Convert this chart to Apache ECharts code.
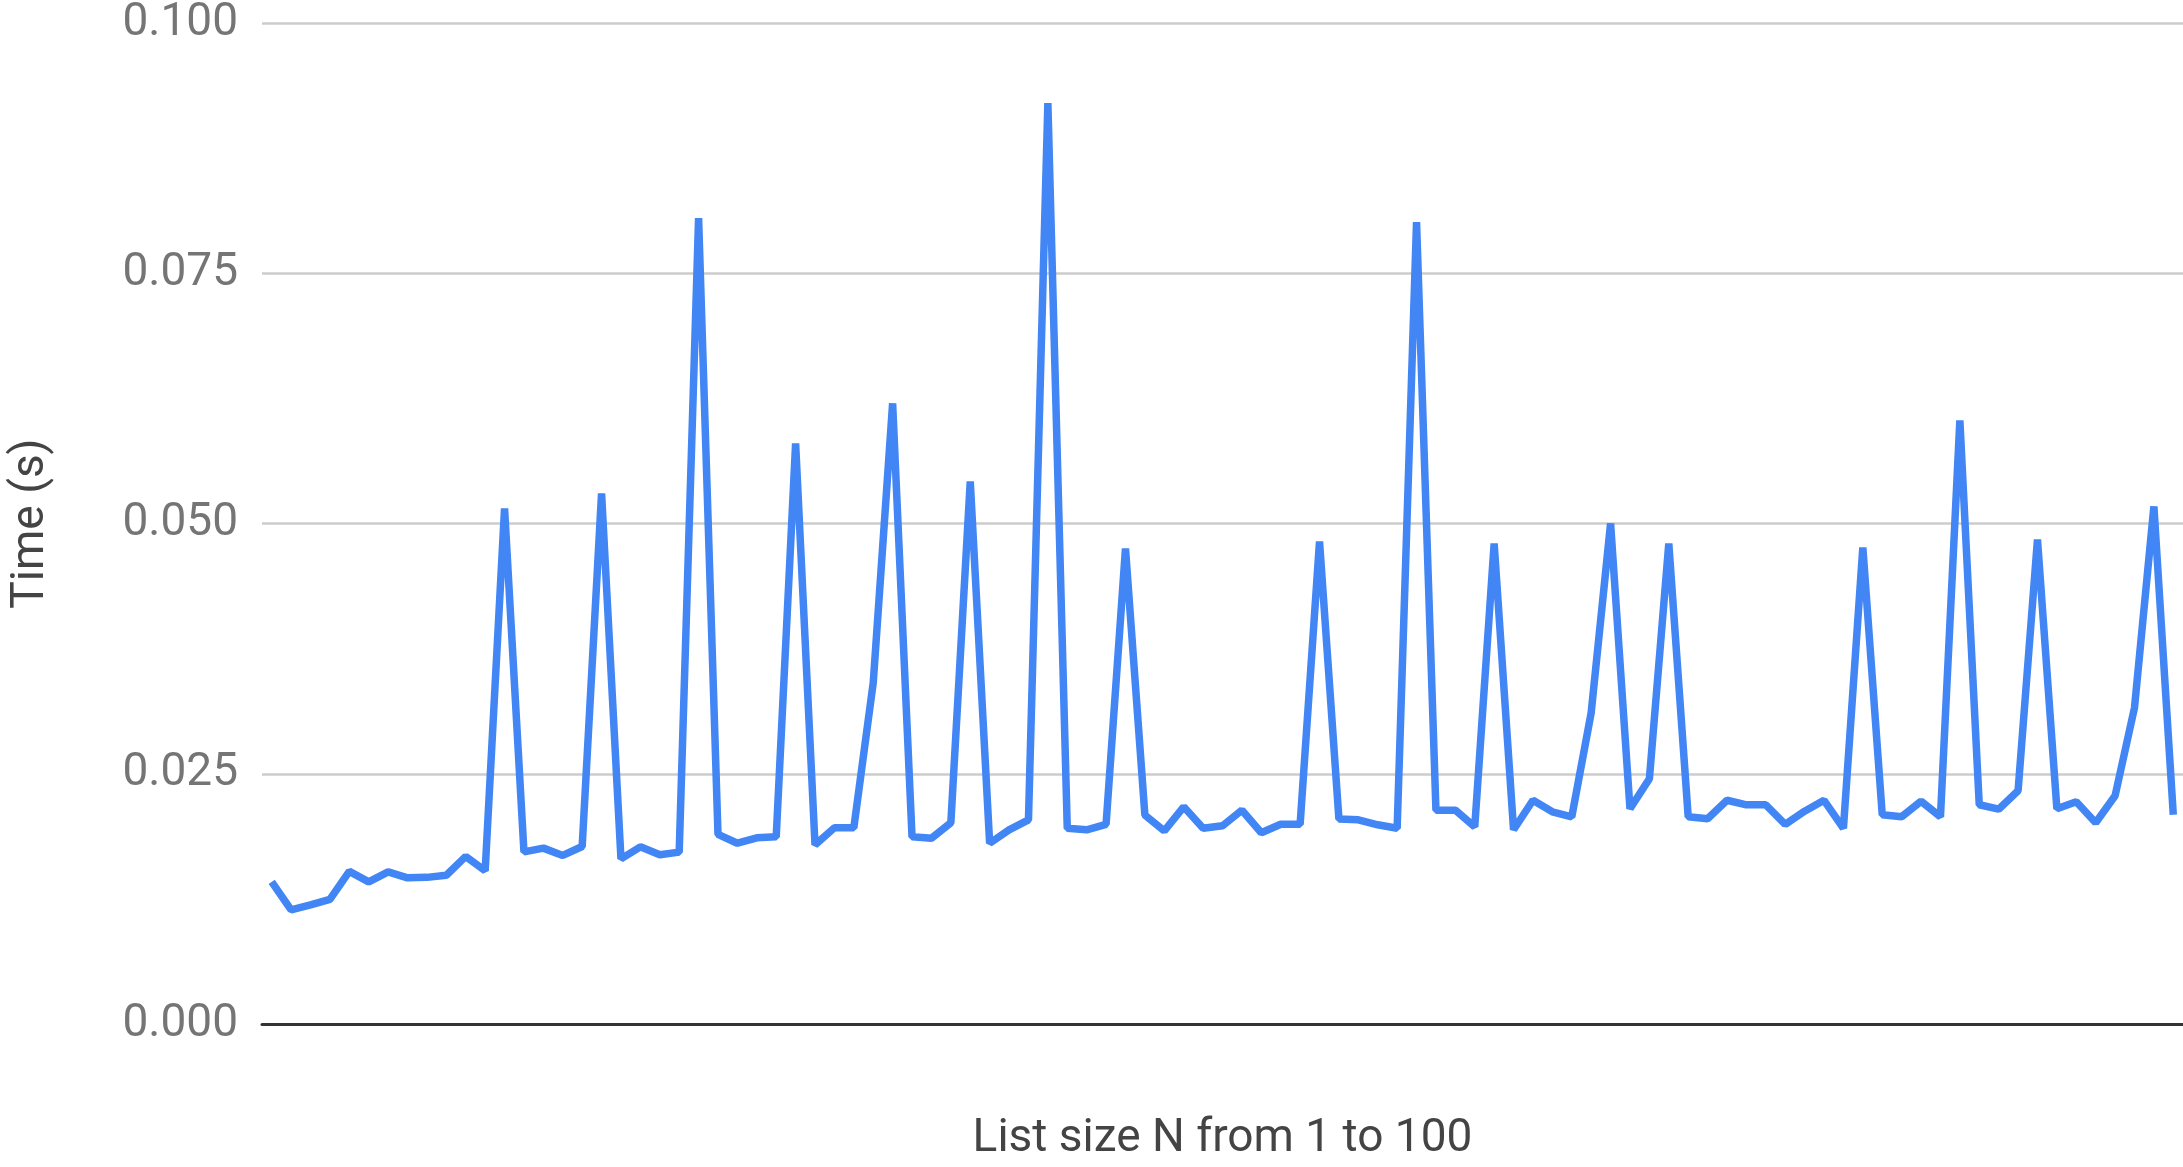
<!DOCTYPE html>
<html>
<head>
<meta charset="utf-8">
<script src="https://cdn.jsdelivr.net/npm/echarts@6/dist/echarts.min.js"></script>
<style>
html,body{margin:0;padding:0;background:#fff;overflow:hidden;}
#chart{width:2183px;height:1167px;}
</style>
</head>
<body>
<div id="chart"></div>
<script>
// List sizes N (x categories)
const sizes = [];
for (let n = 1; n <= 99; n++) sizes.push(n);

// Measured time in milliseconds (converted to seconds below)
const timesMs = [
  14.2, 11.4, 11.9, 12.45, 15.25, 14.2, 15.2, 14.6, 14.65, 14.86,
  16.74, 15.3, 51.5, 17.2, 17.57, 16.84, 17.73, 53.0, 16.5, 17.7,
  16.9, 17.17, 80.5, 18.95, 18.06, 18.6, 18.7, 58.0, 17.9, 19.6,
  19.6, 34.1, 62.0, 18.7, 18.56, 20.1, 54.2, 18.06, 19.4, 20.4,
  92.0, 19.55, 19.4, 19.95, 47.5, 20.87, 19.3, 21.7, 19.55, 19.8,
  21.36, 19.1, 19.95, 19.95, 48.2, 20.47, 20.4, 19.9, 19.55, 80.1,
  21.36, 21.36, 19.7, 48.0, 19.4, 22.35, 21.2, 20.7, 31.1, 50.0,
  21.5, 24.5, 48.0, 20.7, 20.5, 22.35, 21.9, 21.9, 19.95, 21.26,
  22.35, 19.55, 47.6, 20.9, 20.7, 22.25, 20.7, 60.3, 21.9, 21.46,
  23.3, 48.4, 21.5, 22.2, 20.1, 22.8, 31.6, 51.7, 20.9
];
const timesSec = timesMs.map(v => v / 1000);

const yTicks = [0, 0.025, 0.05, 0.075, 0.1];
const xTitle = 'List size N from 1 to 100';
const yTitle = 'Time (s)';

const chart = echarts.init(document.getElementById('chart'), null, {renderer: 'canvas'});
chart.setOption({
  animation: false,
  backgroundColor: '#ffffff',
  textStyle: {fontFamily: 'Roboto'},
  grid: {left: 255, right: -2, top: 21, bottom: 136, containLabel: false},
  xAxis: {
    type: 'category',
    data: sizes,
    boundaryGap: true,
    name: xTitle,
    nameLocation: 'middle',
    nameGap: 92,
    nameTextStyle: {fontFamily: 'Roboto', fontSize: 46, color: '#444444'},
    axisLine: {show: true, onZero: true, lineStyle: {color: '#333333', width: 3}},
    axisTick: {show: false},
    axisLabel: {show: false},
    splitLine: {show: false}
  },
  yAxis: {
    type: 'value',
    min: yTicks[0],
    max: yTicks[yTicks.length - 1],
    interval: 0.025,
    name: yTitle,
    nameLocation: 'middle',
    nameGap: 208,
    nameRotate: 90,
    nameTextStyle: {fontFamily: 'Roboto', fontSize: 46, color: '#444444'},
    axisLine: {show: false},
    axisTick: {show: false},
    axisLabel: {
      margin: 24,
      fontFamily: 'Roboto',
      fontSize: 46,
      color: '#757575',
      formatter: v => v.toFixed(3)
    },
    splitLine: {show: true, lineStyle: {color: '#cccccc', width: 2.5}}
  },
  series: [{
    type: 'line',
    data: timesSec,
    showSymbol: false,
    symbol: 'none',
    lineStyle: {color: '#4285F4', width: 7.5, join: 'bevel'},
    itemStyle: {color: '#4285F4'}
  }]
});
</script>
</body>
</html>
